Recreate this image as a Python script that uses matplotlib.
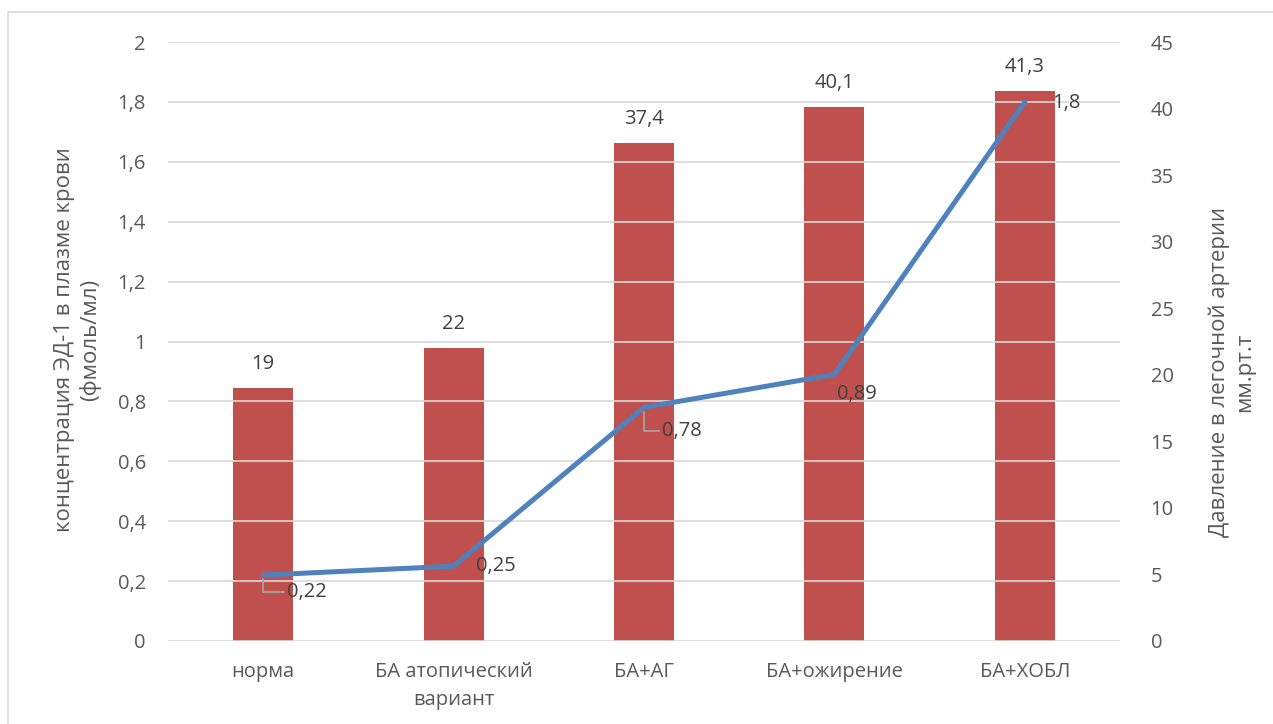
import matplotlib.pyplot as plt
from matplotlib.patches import Rectangle

plt.rcParams['font.family'] = ['Open Sans', 'DejaVu Sans']

categories = ['норма', 'БА атопический\nвариант', 'БА+АГ', 'БА+ожирение', 'БА+ХОБЛ']
pressure = [19, 22, 37.4, 40.1, 41.3]        # bars, right axis
et1 = [0.22, 0.25, 0.78, 0.89, 1.8]          # line, left axis
left_ticks = [0, 0.2, 0.4, 0.6, 0.8, 1, 1.2, 1.4, 1.6, 1.8, 2]
right_ticks = [0, 5, 10, 15, 20, 25, 30, 35, 40, 45]

txt = '#595959'
bar_c = '#C0504D'
line_c = '#4F81BD'
grid_c = '#D9D9D9'
fs = 14.5

def fmt(v):
    s = ('%g' % v).replace('.', ',')
    return s

fig = plt.figure(figsize=(12.73, 7.24), dpi=100)
fig.patches.append(Rectangle((8 / 1273, -0.1), 1.2, (724 - 12) / 724 + 0.1,
                             transform=fig.transFigure, fill=False,
                             edgecolor=grid_c, lw=1.2))

ax = fig.add_axes([168 / 1273, 83 / 724, 952 / 1273, 599 / 724])
ax2 = ax.twinx()

x = list(range(len(categories)))

# bars on the right scale, drawn below the line
ax2.bar(x, pressure, width=0.315, color=bar_c, zorder=2)
for xi, v in zip(x, pressure):
    ax2.annotate(fmt(v), (xi, v), xytext=(0, 10), textcoords='offset points',
                 ha='center', va='bottom', fontsize=fs, color='#404040')
ax2.set_ylim(0, 45)
ax2.set_yticks(right_ticks)
ax2.set_yticklabels([fmt(t) for t in right_ticks])

ax.set_ylim(0, 2)
ax.set_yticks(left_ticks)
ax.set_yticklabels([fmt(t) for t in left_ticks])
ax.set_xlim(-0.5, len(categories) - 0.5)
ax.set_xticks(x)
ax.set_xticklabels(categories, linespacing=1.55)
ax.grid(axis='y', color=grid_c, lw=1.2)
ax.set_axisbelow(True)

# line must be above bars -> put left axis on top
ax.set_zorder(ax2.get_zorder() + 1)
ax.patch.set_visible(False)
ax.plot(x, et1, color=line_c, lw=3.6, solid_capstyle='round', zorder=3)

offsets = [(17, -12), (16, 0), (13, -17), (2, -14), (20, -1)]
leader = [True, False, True, False, False]
for xi, v, off, ld in zip(x, et1, offsets, leader):
    if ld:
        ax.annotate(fmt(v), (xi, v), xytext=off, textcoords='offset points',
                    ha='left', va='center', fontsize=fs, color='#404040',
                    arrowprops=dict(arrowstyle='-', color='#A6A6A6', lw=1.2,
                                    shrinkA=0, shrinkB=3,
                                    connectionstyle='angle,angleA=0,angleB=90,rad=0'))
    else:
        ax.annotate(fmt(v), (xi, v), xytext=off, textcoords='offset points',
                    ha='left', va='center', fontsize=fs, color='#404040')

for a in (ax, ax2):
    for s in a.spines.values():
        s.set_visible(False)
    a.tick_params(length=0, labelsize=fs, labelcolor=txt)
ax.tick_params(axis='y', pad=16)
ax2.tick_params(axis='y', pad=22)
ax.tick_params(axis='x', pad=15)

fig.text(78 / 1273, 1 - 340 / 724, 'концентрация ЭД-1 в плазме крови\n(фмоль/мл)',
         rotation=90, ha='center', va='center', fontsize=16, color=txt,
         linespacing=1.25)
fig.text(1232 / 1273, 1 - 372 / 724, 'Давление в легочной артерии\nмм.рт.т',
         rotation=90, ha='center', va='center', fontsize=16, color=txt,
         linespacing=1.25)

fig.savefig('out.png', dpi=100)
